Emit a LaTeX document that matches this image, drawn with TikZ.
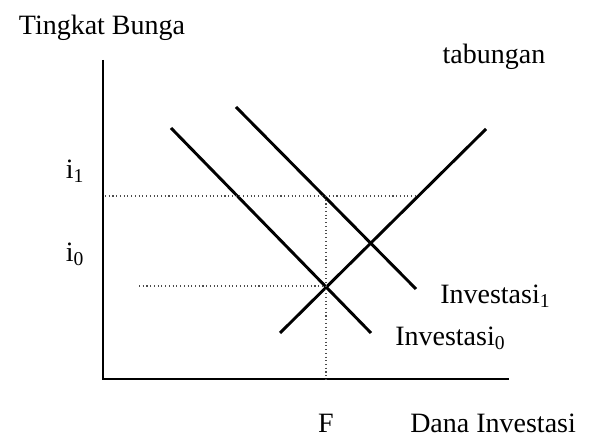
\documentclass[tikz,border=0pt]{standalone}
\usepackage{fontspec}
\setmainfont{Liberation Serif}
\begin{document}
\begin{tikzpicture}[x=0.75pt,y=-0.75pt,
  lbl/.style={inner sep=0pt,font=\fontsize{21}{24}\selectfont},
  curve/.style={line width=2.2pt},
  axis/.style={line width=1.6pt},
  guide/.style={line width=0.8pt,dotted,black!70}]
\useasboundingbox (0,0) rectangle (597,448);
% axes
\coordinate (ytop) at (103,60);
\coordinate (orig) at (103,379);
\coordinate (xend) at (509,379);
\draw[axis] (ytop) -- (orig) -- (xend);
% curves
\coordinate (inv0a) at (171,128);
\coordinate (inv0b) at (371,333);
\coordinate (inv1a) at (236,107);
\coordinate (inv1b) at (416,289);
\coordinate (taba) at (280,333);
\coordinate (tabb) at (486,129);
\draw[curve] (inv0a) -- (inv0b);
\draw[curve] (inv1a) -- (inv1b);
\draw[curve] (taba) -- (tabb);
% guides
\coordinate (g1a) at (105,196);
\coordinate (g1b) at (415,196);
\coordinate (g0a) at (139,286);
\coordinate (E0) at (326,286);
\coordinate (Ftop) at (326,196);
\coordinate (Fbot) at (326,379);
\draw[guide] (g1a) -- (g1b);
\draw[guide] (g0a) -- (E0);
\draw[guide] (Ftop) -- (Fbot);
% labels
\node[lbl] (ylab) at (102,28) {Tingkat Bunga};
\node[lbl] (tab) at (494,57) {tabungan};
\node[lbl] (i1) at (75,171) {i\textsubscript{1}};
\node[lbl] (i0) at (75,254) {i\textsubscript{0}};
\node[lbl,anchor=west] (I1) at (440,296) {Investasi\textsubscript{1}};
\node[lbl,anchor=west] (I0) at (395,338) {Investasi\textsubscript{0}};
\node[lbl] (F) at (326,423) {F};
\node[lbl,anchor=west] (xlab) at (410,423) {Dana Investasi};
\end{tikzpicture}
\end{document}
